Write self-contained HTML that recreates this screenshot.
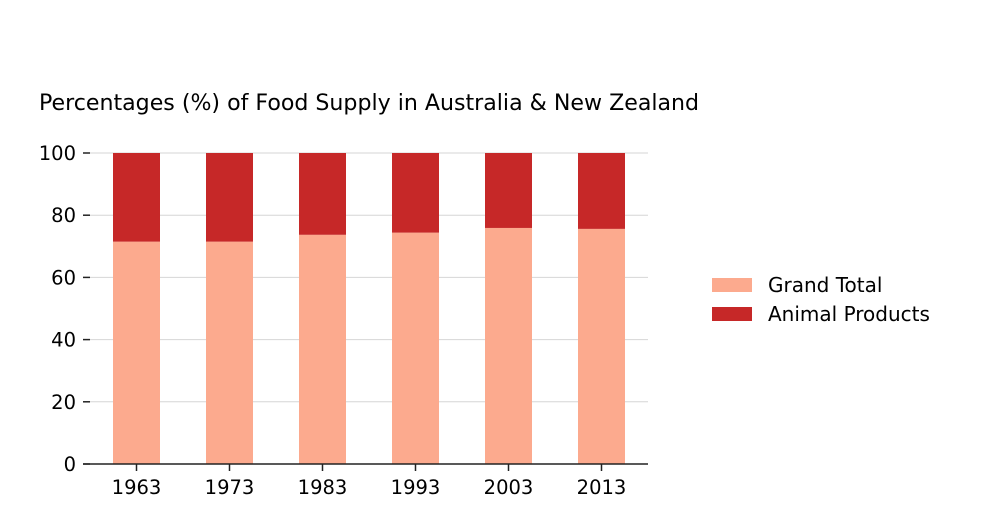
<!DOCTYPE html>
<html><head><meta charset="utf-8"><style>
body{margin:0;background:#fff;font-family:"DejaVu Sans","Liberation Sans",sans-serif;}
</style></head><body>
<svg id="chart" width="1008" height="518" xmlns="http://www.w3.org/2000/svg">
<text x="39" y="110" font-size="22.1" fill="#000">Percentages (%) of Food Supply in Australia &amp; New Zealand</text>
<g id="grid"></g><g id="bars"></g><g id="axes"></g>
<g>
<rect x="712" y="278" width="40" height="14" fill="#fcaa8e"/>
<text x="768" y="292" font-size="20">Grand Total</text>
<rect x="712" y="307" width="40" height="14" fill="#c62828"/>
<text x="768" y="321" font-size="20">Animal Products</text>
</g>
</svg>
<script>
const categories=["1963","1973","1983","1993","2003","2013"];
const grandTotal=[71.5,71.5,73.7,74.4,75.9,75.6];
const animalProducts=[28.5,28.5,26.3,25.6,24.1,24.4];
const yTicks=[0,20,40,60,80,100];
const NS="http://www.w3.org/2000/svg";
const y=v=>464-v*3.11;
const x=i=>136.5+i*93;
function mk(tag,attrs,parent){const e=document.createElementNS(NS,tag);for(const k in attrs)e.setAttribute(k,attrs[k]);parent.appendChild(e);return e;}
const grid=document.getElementById('grid'),bars=document.getElementById('bars'),axes=document.getElementById('axes');
yTicks.forEach(t=>{
 const g=mk('line',{x1:90,x2:648,y1:y(t),y2:y(t),stroke:'#d6d6d6','stroke-width':1},grid);
 
 
 const tk=mk('line',{x1:83,x2:90,y1:y(t),y2:y(t),stroke:'#222','stroke-width':1.5},axes);
 
 
 const tx=mk('text',{x:76,y:y(t)+7,'font-size':19.5,'text-anchor':'end'},axes);
 tx.textContent=t;
 
 
});
categories.forEach((c,i)=>{
 const b1=mk('rect',{x:x(i)-23.5,width:47,y:y(grandTotal[i]),height:y(0)-y(grandTotal[i]),fill:'#fcaa8e'},bars);
 
 
 const top=grandTotal[i]+animalProducts[i];
 const b2=mk('rect',{x:x(i)-23.5,width:47,y:y(top),height:y(grandTotal[i])-y(top),fill:'#c62828'},bars);
 
 
 const tk=mk('line',{x1:x(i),x2:x(i),y1:464,y2:471,stroke:'#222','stroke-width':1.5},axes);
 
 
 const tx=mk('text',{x:x(i),y:494,'font-size':19.5,'text-anchor':'middle'},axes);
 tx.textContent=c;
 
 
});
const ax=mk('line',{x1:83,x2:648,y1:464,y2:464,stroke:'#222','stroke-width':1.5},axes);


</script>
</body></html>
